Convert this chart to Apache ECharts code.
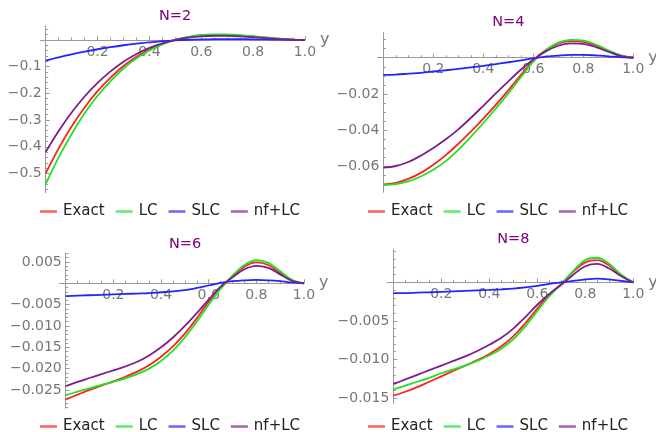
<!DOCTYPE html>
<html>
<head>
<meta charset="utf-8">
<script src="https://cdn.jsdelivr.net/npm/echarts@6/dist/echarts.min.js"></script>
<style>
  html, body { margin: 0; padding: 0; background: #fff; }
  #chart { width: 656px; height: 432px; }
</style>
</head>
<body>
<div id="chart"></div>
<script>
// sample points along y (0..1)
const xs = [0, 0.05, 0.1, 0.15, 0.2, 0.25, 0.3, 0.35, 0.4, 0.45, 0.5,
            0.55, 0.6, 0.65, 0.7, 0.75, 0.8, 0.85, 0.9, 0.95, 1.0];
const seriesNames = ['Exact', 'LC', 'SLC', 'nf+LC'];

// N=2
const exactN2 = [-0.50, -0.406, -0.324, -0.253, -0.192, -0.141, -0.098, -0.063, -0.036, -0.015, 0,
                 0.010, 0.016, 0.018, 0.018, 0.0156, 0.012, 0.008, 0.004, 0.0011, 0];
const lcN2    = [-0.54, -0.44, -0.352, -0.275, -0.209, -0.154, -0.107, -0.069, -0.040, -0.017, 0,
                 0.0115, 0.0185, 0.021, 0.0205, 0.018, 0.014, 0.0092, 0.0047, 0.0013, 0];
const slcN2   = [-0.0774, -0.065, -0.054, -0.044, -0.035, -0.027, -0.020, -0.014, -0.009, -0.0045, -0.0015,
                 0.0005, 0.0018, 0.0025, 0.0028, 0.0027, 0.0023, 0.0017, 0.001, 0.0004, 0];
const nflcN2  = [-0.42, -0.341, -0.272, -0.212, -0.161, -0.118, -0.082, -0.053, -0.030, -0.013, 0,
                 0.0085, 0.0135, 0.0155, 0.0152, 0.013, 0.010, 0.0066, 0.0034, 0.0009, 0];

// N=4
const exactN4 = [-0.0698, -0.0690, -0.0668, -0.0635, -0.0590, -0.0537, -0.0475, -0.0408, -0.0336, -0.0260, -0.0180,
                 -0.0096, -0.0015, 0.0042, 0.0078, 0.0092, 0.0088, 0.0068, 0.0038, 0.0012, 0];
const lcN4    = [-0.0702, -0.0697, -0.0682, -0.0655, -0.0618, -0.0570, -0.0508, -0.0436, -0.0360, -0.0280, -0.0197,
                 -0.0108, -0.0022, 0.0042, 0.0083, 0.0098, 0.0094, 0.0073, 0.0041, 0.0013, 0];
const slcN4   = [-0.0095, -0.0093, -0.0088, -0.0083, -0.0076, -0.0069, -0.0061, -0.0053, -0.0045, -0.0035, -0.0025,
                 -0.0014, -0.0003, 0.0006, 0.0012, 0.0016, 0.0016, 0.0013, 0.0008, 0.0003, 0];
const nflcN4  = [-0.0606, -0.0597, -0.0575, -0.0540, -0.0498, -0.0450, -0.0395, -0.0332, -0.0265, -0.0197, -0.0130,
                 -0.0066, -0.0010, 0.0035, 0.0066, 0.0079, 0.0076, 0.0059, 0.0033, 0.0010, 0];

// N=6
const exactN6 = [-0.0272, -0.0261, -0.0250, -0.0240, -0.0230, -0.0219, -0.0207, -0.0192, -0.0172, -0.0148, -0.0118,
                 -0.0082, -0.0043, -0.0010, 0.0016, 0.0039, 0.0049, 0.0043, 0.0024, 0.0006, 0];
const lcN6    = [-0.0262, -0.0254, -0.0246, -0.0238, -0.0231, -0.0223, -0.0213, -0.0200, -0.0182, -0.0158, -0.0127,
                 -0.0090, -0.0050, -0.0013, 0.0018, 0.0043, 0.0054, 0.0048, 0.0028, 0.0008, 0];
const slcN6   = [-0.0030, -0.0029, -0.0028, -0.0027, -0.0026, -0.0025, -0.0024, -0.0023, -0.0021, -0.0019, -0.0016,
                 -0.0011, -0.0005, 0.0001, 0.0005, 0.0007, 0.0008, 0.0007, 0.0005, 0.0002, 0];
const nflcN6  = [-0.0241, -0.0231, -0.0222, -0.0213, -0.0204, -0.0195, -0.0184, -0.0169, -0.0150, -0.0127, -0.0100,
                 -0.0070, -0.0038, -0.0008, 0.0014, 0.0033, 0.0041, 0.0036, 0.0021, 0.0006, 0];

// N=8
const exactN8 = [-0.0147, -0.0142, -0.0136, -0.0129, -0.0122, -0.0115, -0.0108, -0.0101, -0.0093, -0.0083, -0.0070,
                 -0.0053, -0.0034, -0.0016, -0.0002, 0.0014, 0.0026, 0.0029, 0.0022, 0.0009, 0];
const lcN8    = [-0.0139, -0.0134, -0.0129, -0.0124, -0.0118, -0.0113, -0.0108, -0.0102, -0.0095, -0.0086, -0.0074,
                 -0.0057, -0.0037, -0.0018, -0.0002, 0.0015, 0.0029, 0.0032, 0.0024, 0.0010, 0];
const slcN8   = [-0.0014, -0.00138, -0.00133, -0.00128, -0.00122, -0.00116, -0.0011, -0.00104, -0.00098, -0.0009, -0.0008,
                 -0.00065, -0.00045, -0.0002, 0.0, 0.0002, 0.0004, 0.0005, 0.0004, 0.0002, 0];
const nflcN8  = [-0.0132, -0.0126, -0.0120, -0.0114, -0.0108, -0.0102, -0.0096, -0.0089, -0.0081, -0.0072, -0.0060,
                 -0.0045, -0.0029, -0.0015, -0.0003, 0.0010, 0.0021, 0.0024, 0.0018, 0.0008, 0];

// tick labels
const xTicks = [0.2, 0.4, 0.6, 0.8, 1.0];
const yTicksN2 = [-0.5, -0.4, -0.3, -0.2, -0.1];
const yTicksN4 = [-0.06, -0.04, -0.02];
const yTicksN6 = [-0.025, -0.02, -0.015, -0.01, -0.005, 0.005];
const yTicksN8 = [-0.015, -0.01, -0.005];

const colors = ['#ff2020', '#22e022', '#2424ff', '#7d1e8d'];
const font = 'DejaVu Sans';
const axisGray = '#999';
const labelGray = '#777';

const panels = [
  { title: 'N=2', data: [exactN2, lcN2, slcN2, nflcN2], yTicks: yTicksN2, digits: 1, minorStep: 0.02,
    grid: { left: 40.5, top: 26, width: 264.5, height: 166.7 }, xMin: -0.02, yMin: -0.572, yMax: 0.052,
    titleAt: [175, 15], legendAt: [40, 210] },
  { title: 'N=4', data: [exactN4, lcN4, slcN4, nflcN4], yTicks: yTicksN4, digits: 2, minorStep: 0.005,
    grid: { left: 377.8, top: 32.7, width: 255.5, height: 159.6 }, xMin: -0.022, yMin: -0.0742, yMax: 0.0138,
    titleAt: [508.3, 21.7], legendAt: [368, 210] },
  { title: 'N=6', data: [exactN6, lcN6, slcN6, nflcN6], yTicks: yTicksN6, digits: 3, minorStep: 0.001,
    grid: { left: 59.3, top: 253.3, width: 244.7, height: 155 }, xMin: -0.027, yMin: -0.0293, yMax: 0.00703,
    titleAt: [185, 243.3], legendAt: [40, 425] },
  { title: 'N=8', data: [exactN8, lcN8, slcN8, nflcN8], yTicks: yTicksN8, digits: 3, minorStep: 0.001,
    grid: { left: 387.3, top: 249.3, width: 246, height: 154 }, xMin: -0.025, yMin: -0.0157, yMax: 0.0043,
    titleAt: [513.3, 238.3], legendAt: [368, 425] }
];

// minor tick positions between the labelled ones
function minorTicks(min, max, step, majors) {
  const out = [];
  for (let k = Math.ceil(min / step - 1e-9); k * step <= max + 1e-12; k++) {
    const v = +(k * step).toFixed(6);
    if (v === 0) continue;
    if (majors.some(m => Math.abs(m - v) < step / 10)) continue;
    out.push(v);
  }
  return out;
}

function fmt(v, digits) {
  return v.toFixed(digits).replace('-', '\u2212');
}

const grids = [], xAxes = [], yAxes = [], titles = [], legends = [], series = [];

panels.forEach((p, i) => {
  const g = p.grid;
  grids.push(Object.assign({ outerBoundsMode: 'none', containLabel: false }, g));

  // axes cross at (0, 0): shift them from the grid edges to the zero lines
  const zeroFromBottom = g.height * (0 - p.yMin) / (p.yMax - p.yMin);
  const zeroFromTop = g.height - zeroFromBottom;
  const zeroFromLeft = g.width * (0 - p.xMin) / (1 - p.xMin);
  const zeroFromRight = g.width - zeroFromLeft;

  titles.push({
    text: p.title, left: p.titleAt[0], top: p.titleAt[1] - 6.5, textAlign: 'center', padding: 0,
    textStyle: { fontSize: 14.5, fontWeight: 'normal', color: '#800080', fontFamily: font }
  });

  legends.push({
    data: seriesNames, left: p.legendAt[0], top: p.legendAt[1] - 6, padding: 0,
    icon: 'rect', itemGap: 11, itemWidth: 17, itemHeight: 2.5,
    itemStyle: { opacity: 0.7 },
    textStyle: { fontSize: 15, color: '#222', fontFamily: font, padding: [0, 0, 0, 1] }
  });

  const mainX = 2 * i, mainY = 2 * i;
  xAxes.push({
    gridIndex: i, type: 'value', min: p.xMin, max: 1, position: 'bottom', offset: -zeroFromBottom,
    axisLine: { onZero: false, lineStyle: { color: axisGray, width: 1 } },
    axisTick: { inside: true, length: 4, customValues: xTicks, lineStyle: { color: axisGray } },
    axisLabel: { customValues: xTicks, margin: 5, color: labelGray, fontSize: 14, fontFamily: font,
                 formatter: v => fmt(v, 1) },
    splitLine: { show: false },
    name: 'y', nameLocation: 'end', nameGap: 12,
    nameTextStyle: { color: labelGray, fontSize: 16, fontFamily: font, padding: [0, 0, 6, 0] }
  });
  xAxes.push({
    gridIndex: i, type: 'value', min: p.xMin, max: 1, position: 'top', offset: -zeroFromTop,
    axisLine: { show: false, onZero: false },
    axisTick: { inside: false, length: 2.5, customValues: minorTicks(0, 1, 0.05, xTicks),
                lineStyle: { color: axisGray } },
    axisLabel: { show: false }, splitLine: { show: false }
  });

  yAxes.push({
    gridIndex: i, type: 'value', min: p.yMin, max: p.yMax, position: 'left', offset: -zeroFromLeft,
    axisLine: { show: true, onZero: false, lineStyle: { color: axisGray, width: 1 } },
    axisTick: { show: true, inside: true, length: 4, customValues: p.yTicks, lineStyle: { color: axisGray } },
    axisLabel: { customValues: p.yTicks, margin: 4, color: labelGray, fontSize: 14, fontFamily: font,
                 formatter: v => fmt(v, p.digits) },
    splitLine: { show: false }
  });
  yAxes.push({
    gridIndex: i, type: 'value', min: p.yMin, max: p.yMax, position: 'right', offset: -zeroFromRight,
    axisLine: { show: false, onZero: false },
    axisTick: { show: true, inside: false, length: 2.5,
                customValues: minorTicks(p.yMin, p.yMax, p.minorStep, p.yTicks),
                lineStyle: { color: axisGray } },
    axisLabel: { show: false }, splitLine: { show: false }
  });

  p.data.forEach((vals, k) => {
    series.push({
      name: seriesNames[k], type: 'line', xAxisIndex: mainX, yAxisIndex: mainY,
      data: xs.map((x, j) => [x, vals[j]]),
      smooth: 0.35, symbol: 'none', showSymbol: false,
      lineStyle: { color: colors[k], width: 1.8 },
      itemStyle: { color: colors[k] },
      emphasis: { disabled: true }, animation: false
    });
  });
});

const chart = echarts.init(document.getElementById('chart'), null, { renderer: 'canvas' });
chart.setOption({
  backgroundColor: '#fff',
  animation: false,
  title: titles,
  legend: legends,
  grid: grids,
  xAxis: xAxes,
  yAxis: yAxes,
  series: series
});
</script>
</body>
</html>
